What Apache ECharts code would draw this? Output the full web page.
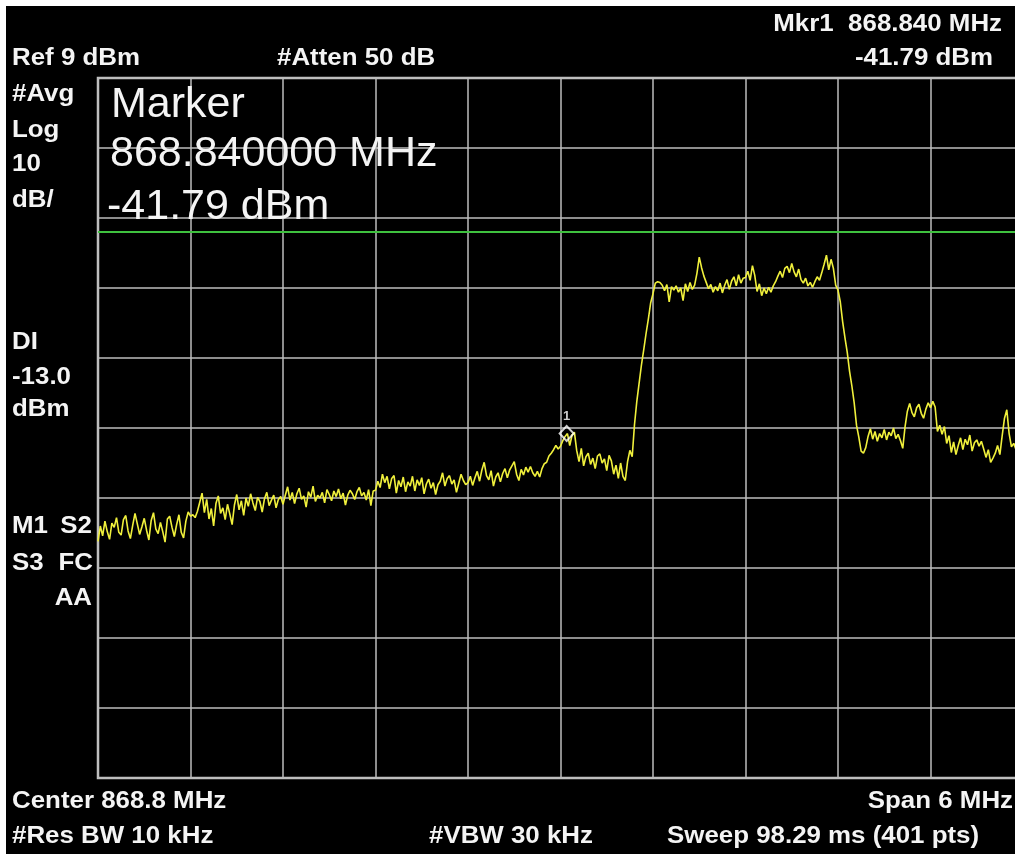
<!DOCTYPE html>
<html>
<head>
<meta charset="utf-8">
<title>Spectrum 868.8 MHz</title>
<script src="https://cdn.jsdelivr.net/npm/echarts@6/dist/echarts.min.js"></script>
<style>
  html, body { margin: 0; padding: 0; background: #ffffff; overflow: hidden; }
  /* the graticule runs slightly past the right edge of the window */
  #chart { width: 1032px; height: 854px; }
</style>
</head>
<body>
<div id="chart"></div>
<script>
// Analyzer settings
const REF_LEVEL = 9;          // dBm, top graticule line
const DB_PER_DIV = 10;
const CENTER_MHZ = 868.8;
const SPAN_MHZ = 6;
const POINTS = 401;
const DISPLAY_LINE = -13.0;   // dBm
const MARKER_MHZ = 868.84;
const MARKER_DBM = -41.79;

// Trace amplitude (dBm), one array per horizontal division (40 sweep points each)
const traceDiv1 = [
  -57.2, -55.0, -56.4, -54.3, -55.8, -56.9, -54.6, -55.2, -53.8, -55.9,
  -56.3, -54.1, -53.5, -55.7, -56.8, -54.9, -53.2, -54.7, -56.2, -55.1,
  -53.9, -55.6, -57.0, -54.2, -53.1, -55.4, -56.1, -54.5, -55.8, -57.3,
  -54.0, -53.6, -55.2, -56.5, -54.8, -53.4, -55.9, -56.7, -54.3, -53.0
];
const traceDiv2 = [
  -53.6, -53.4, -53.8, -52.9, -51.6, -50.3, -53.1, -51.2, -54.0, -52.5,
  -55.0, -51.8, -50.7, -53.2, -52.4, -54.1, -51.9, -53.3, -54.8, -52.0,
  -50.5, -52.7, -51.4, -53.5, -51.0, -52.2, -50.4, -51.7, -52.8, -50.9,
  -51.5, -53.0, -51.1, -50.2, -52.1, -51.3, -50.6, -52.4, -51.2, -50.8
];
const traceDiv3 = [
  -51.9, -50.6, -49.4, -51.3, -50.2, -51.8, -50.4, -49.6, -51.2, -50.7,
  -52.3, -50.1, -50.9, -49.3, -51.5, -50.6, -51.0, -50.2, -51.7, -49.8,
  -50.5, -51.4, -50.0, -50.8, -49.7, -51.1, -50.3, -52.0, -50.6, -49.9,
  -50.4, -51.2, -50.1, -49.5, -50.7, -50.2, -51.3, -49.8, -52.1, -50.0
];
const traceDiv4 = [
  -49.9, -48.6, -49.5, -47.6, -48.8, -47.9, -49.7, -48.2, -47.8, -50.3,
  -48.5, -49.4, -48.0, -50.1, -48.7, -49.3, -47.9, -50.0, -48.4, -49.2,
  -48.1, -50.4, -49.0, -48.3, -49.6, -48.8, -50.5, -49.1, -48.6, -47.4,
  -49.3, -48.2, -47.8, -49.0, -48.4, -50.2, -48.9, -47.6, -48.5, -49.1
];
const traceDiv5 = [
  -48.8, -47.9, -49.2, -48.1, -47.2, -48.6, -47.0, -45.9, -47.8, -48.4,
  -47.1, -49.3, -48.0, -47.4, -48.7, -47.5, -46.8, -48.1, -47.0, -46.4,
  -45.8, -47.6, -48.5, -46.9, -47.7, -46.6, -47.3, -46.5, -47.4, -47.9,
  -47.2, -48.0, -46.8, -46.1, -45.9, -45.0, -44.6, -44.1, -43.5, -44.0
];
const traceDiv6 = [
  -43.6, -42.8, -42.2, -41.79, -43.5, -42.0, -41.6, -44.2, -45.8, -43.9,
  -46.4, -45.1, -44.6, -46.2, -45.3, -46.8, -45.0, -44.7, -46.0, -45.4,
  -47.1, -44.9, -45.7, -47.6, -46.3, -48.2, -46.0, -47.9, -48.5, -45.8,
  -44.2, -45.1, -40.5, -37.2, -34.6, -32.0, -29.8, -27.5, -25.4, -23.1
];
const traceDiv7 = [
  -21.8, -20.3, -20.1, -20.2, -20.6, -21.4, -20.5, -23.0, -20.8, -21.3,
  -20.7, -21.6, -21.0, -22.8, -20.4, -21.5, -20.2, -21.2, -20.6, -18.9,
  -16.6, -18.1, -19.3, -20.2, -21.1, -20.5, -21.6, -20.8, -21.4, -20.3,
  -21.7, -20.6, -19.8, -21.2, -20.0, -19.4, -20.7, -19.1, -20.3, -19.6
];
const traceDiv8 = [
  -19.5, -18.6, -19.9, -17.8, -19.2, -21.5, -20.4, -22.1, -21.0, -21.8,
  -20.9, -21.6, -20.7, -20.1, -19.3, -18.6, -19.5, -18.2, -17.9, -18.8,
  -17.5, -18.7, -19.4, -18.3, -19.8, -20.3, -19.6, -20.7, -20.2, -20.9,
  -20.1, -19.4, -19.9, -18.8, -17.6, -16.3, -18.4, -16.9, -18.2, -20.6
];
const traceDiv9 = [
  -21.3, -23.0, -25.8, -28.1, -30.2, -32.9, -35.0, -37.4, -40.6, -42.3,
  -44.3, -44.6, -43.8, -42.2, -41.1, -42.6, -41.5, -42.9, -41.8, -42.4,
  -41.2, -42.7, -41.6, -42.1, -41.0, -42.5, -41.9, -42.8, -43.9, -40.8,
  -38.6, -37.5, -38.8, -39.4, -38.1, -37.6, -38.9, -39.6, -38.3, -37.4
];
const traceDiv10 = [
  -38.1, -37.2, -38.0, -41.5, -40.6, -41.9, -40.8, -43.2, -42.1, -44.5,
  -43.0, -44.8, -43.5, -42.4, -44.1, -42.6, -43.4, -42.0, -44.3, -43.1,
  -42.7, -43.6, -42.9, -44.0, -45.2, -44.1, -45.9, -45.3, -44.6, -43.5,
  -44.8, -42.1, -39.6, -38.4, -41.8, -43.7, -43.2, -44.1, -43.0, -44.4,
  -43.6
];

// Annotation texts
const headerLeft = 'Ref 9 dBm';
const headerAtten = '#Atten 50 dB';
const sideTop = ['#Avg', 'Log', '10', 'dB/'];
const sideDisplayLine = ['DI', DISPLAY_LINE.toFixed(1), 'dBm'];
const footerCenter = 'Center 868.8 MHz';
const footerSpan = 'Span 6 MHz';
const footerRbw = '#Res BW 10 kHz';
const footerVbw = '#VBW 30 kHz';
const footerSweep = 'Sweep 98.29 ms (401 pts)';

// ---- build series data ----
const trace = [].concat(traceDiv1, traceDiv2, traceDiv3, traceDiv4, traceDiv5,
                        traceDiv6, traceDiv7, traceDiv8, traceDiv9, traceDiv10);
const HALF_SPAN_KHZ = SPAN_MHZ * 1000 / 2;
const STEP_KHZ = SPAN_MHZ * 1000 / (POINTS - 1);
// x is the offset from the centre frequency, in kHz
const traceData = trace.map((v, i) => [i * STEP_KHZ - HALF_SPAN_KHZ, v]);
const markerOffsetKhz = (MARKER_MHZ - CENTER_MHZ) * 1000;

const TEXT_COLOR = '#f4f4f4';
const FONT_BOLD = 'bold 23px "Liberation Sans", Arial, sans-serif';
const FONT_BIG = '43px "Liberation Sans", Arial, sans-serif';
const BOLD_STRETCH = 1.125;   // the instrument font is a little wider than Arial

function label(x, y, text, align, font) {
  const big = !!font;
  return {
    type: 'text', x: x, y: y, silent: true, z: 20,
    scaleX: big ? 1 : BOLD_STRETCH,
    style: {
      text: text, fill: TEXT_COLOR, font: font || FONT_BOLD,
      textAlign: align || 'left', align: align || 'left',
      textVerticalAlign: 'middle', verticalAlign: 'middle'
    }
  };
}

const graphics = [
  // light frame around the screen capture
  { type: 'rect', shape: { x: 0, y: 0, width: 1032, height: 6 }, style: { fill: '#ffffff' }, silent: true, z: 30 },
  { type: 'rect', shape: { x: 0, y: 0, width: 6, height: 854 }, style: { fill: '#ffffff' }, silent: true, z: 30 },

  label(12, 59, headerLeft),
  label(277, 59, headerAtten),
  label(1002, 24.5, 'Mkr1  ' + MARKER_MHZ.toFixed(3) + ' MHz', 'right'),
  label(993, 58.5, MARKER_DBM.toFixed(2) + ' dBm', 'right'),

  label(12, 95, sideTop[0]),
  label(12, 130.5, sideTop[1]),
  label(12, 165, sideTop[2]),
  label(12, 201, sideTop[3]),

  label(12, 343, sideDisplayLine[0]),
  label(12, 378, sideDisplayLine[1]),
  label(12, 410, sideDisplayLine[2]),

  label(12, 527, 'M1'),
  label(92, 527, 'S2', 'right'),
  label(12, 564, 'S3'),
  label(93, 564, 'FC', 'right'),
  label(92, 599, 'AA', 'right'),

  label(111, 105.5, 'Marker', 'left', FONT_BIG),
  label(110, 154, MARKER_MHZ.toFixed(6) + ' MHz', 'left', FONT_BIG),
  label(107, 207, MARKER_DBM.toFixed(2) + ' dBm', 'left', FONT_BIG),

  label(12, 801.5, footerCenter),
  label(1013, 801.5, footerSpan, 'right'),
  label(12, 837, footerRbw),
  label(429, 837, footerVbw),
  label(667, 837, footerSweep)
];

const chart = echarts.init(document.getElementById('chart'), null, { renderer: 'canvas' });
chart.setOption({
  backgroundColor: '#000000',
  animation: false,
  grid: {
    left: 98, top: 78, width: 925, height: 700,
    outerBoundsMode: 'none',
    show: true, borderColor: '#c4c4c4', borderWidth: 2.5, backgroundColor: 'transparent'
  },
  xAxis: {
    type: 'value',
    min: -HALF_SPAN_KHZ, max: HALF_SPAN_KHZ, interval: SPAN_MHZ * 1000 / 10,
    axisLine: { show: false }, axisTick: { show: false }, axisLabel: { show: false },
    splitLine: { show: true, lineStyle: { color: '#bdbdbd', width: 1.5 } }
  },
  yAxis: {
    type: 'value',
    min: REF_LEVEL - 10 * DB_PER_DIV, max: REF_LEVEL, interval: DB_PER_DIV,
    axisLine: { show: false }, axisTick: { show: false }, axisLabel: { show: false },
    splitLine: { show: true, lineStyle: { color: '#bdbdbd', width: 1.5 } }
  },
  graphic: graphics,
  series: [
    {
      type: 'line',
      data: traceData,
      showSymbol: false,
      symbol: 'none',
      lineStyle: { color: '#f0f03c', width: 1.6 },
      z: 5,
      markLine: {
        silent: true,
        symbol: ['none', 'none'],
        label: { show: false },
        lineStyle: { color: '#3fc23f', width: 2, type: 'solid' },
        data: [{ yAxis: DISPLAY_LINE }]
      }
    },
    {
      type: 'scatter',
      data: [[markerOffsetKhz, MARKER_DBM]],
      symbol: 'diamond',
      symbolSize: [14, 15],
      itemStyle: { color: 'rgba(0,0,0,0)', borderColor: '#ffffff', borderWidth: 2 },
      label: {
        show: true, position: 'top', distance: 2, formatter: '1',
        color: '#ffffff', fontSize: 13, fontWeight: 'bold',
        fontFamily: '"Liberation Sans", Arial, sans-serif'
      },
      z: 10
    }
  ]
});
</script>
</body>
</html>
